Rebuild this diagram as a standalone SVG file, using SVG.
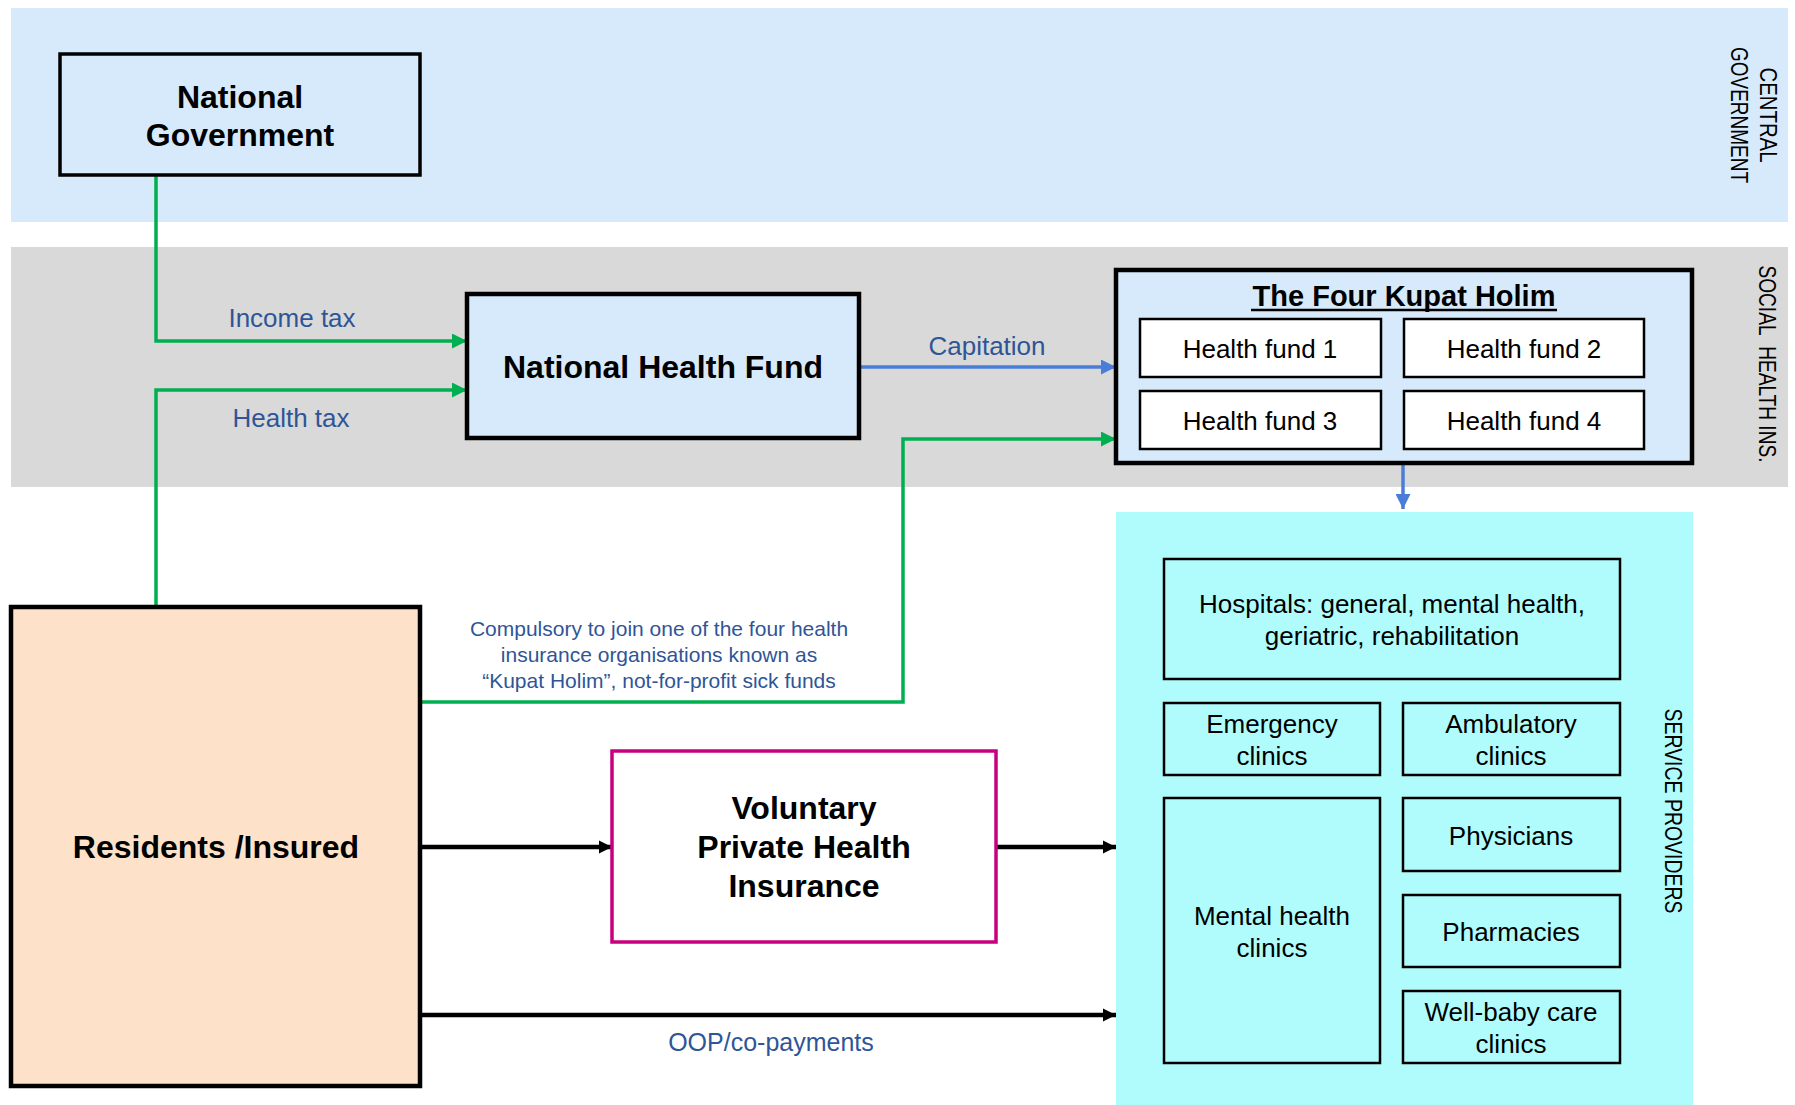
<svg xmlns="http://www.w3.org/2000/svg" width="1795" height="1105" viewBox="0 0 1795 1105">
<style>
text{font-family:"Liberation Sans",Arial,sans-serif;}
.big{font-size:32px;font-weight:bold;fill:#000;text-anchor:middle;}
.reg{font-size:26px;fill:#000;text-anchor:middle;}
.lbl{font-size:26px;fill:#2F5597;text-anchor:middle;}
.side{font-size:23px;fill:#000;text-anchor:middle;dominant-baseline:central;}
.thick{stroke:#000;stroke-width:4.5;}
.thin{stroke:#000;stroke-width:2.5;}
.green{fill:none;stroke:#00B050;stroke-width:3.5;}
.blue{fill:none;stroke:#4A7DD8;stroke-width:3.5;}
.black{fill:none;stroke:#000;stroke-width:4.5;}
</style>
<defs>
<marker id="ag" viewBox="0 0 10 10" refX="10" refY="5" markerUnits="userSpaceOnUse" markerWidth="15" markerHeight="15" orient="auto"><path d="M0,0 L10,5 L0,10 z" fill="#00B050"/></marker>
<marker id="ab" viewBox="0 0 10 10" refX="10" refY="5" markerUnits="userSpaceOnUse" markerWidth="15" markerHeight="15" orient="auto"><path d="M0,0 L10,5 L0,10 z" fill="#4A7DD8"/></marker>
<marker id="ak" viewBox="0 0 10 10" refX="10" refY="5" markerUnits="userSpaceOnUse" markerWidth="13" markerHeight="16" orient="auto"><path d="M0,0 L10,5 L0,10 z" fill="#000"/></marker>
</defs>
<rect width="1795" height="1105" fill="#fff"/>

<g id="bands">
<rect x="11" y="8" width="1777" height="214" fill="#D6EAFB"/>
<rect x="11" y="247" width="1777" height="240" fill="#D9D9D9"/>
<rect x="1116" y="512" width="577" height="593" fill="#B0FCFD"/>
<text class="side" transform="translate(1768,115) rotate(90)" textLength="95" lengthAdjust="spacingAndGlyphs">CENTRAL</text>
<text class="side" transform="translate(1739,115) rotate(90)" textLength="136" lengthAdjust="spacingAndGlyphs">GOVERNMENT</text>
<text class="side" transform="translate(1767,364) rotate(90)" textLength="197" lengthAdjust="spacingAndGlyphs">SOCIAL&#160; HEALTH INS.</text>
<text class="side" transform="translate(1673,811) rotate(90)" textLength="205" lengthAdjust="spacingAndGlyphs">SERVICE PROVIDERS</text>
</g>

<g id="connectors">
<path class="green" d="M156,175 V341 H467" marker-end="url(#ag)"/>
<path class="green" d="M156,607 V390 H467" marker-end="url(#ag)"/>
<path class="green" d="M420,702 H903 V439 H1116" marker-end="url(#ag)"/>
<path class="blue" d="M859,367 H1116" marker-end="url(#ab)"/>
<path class="blue" d="M1403,462 V509" marker-end="url(#ab)"/>
<path class="black" d="M420,847 H612" marker-end="url(#ak)"/>
<path class="black" d="M996,847 H1116" marker-end="url(#ak)"/>
<path class="black" d="M420,1015 H1116" marker-end="url(#ak)"/>
<text class="lbl" x="292" y="327">Income tax</text>
<text class="lbl" x="291" y="427">Health tax</text>
<text class="lbl" x="987" y="355">Capitation</text>
<text class="lbl" x="771" y="1051" style="font-size:25px">OOP/co-payments</text>
<text class="lbl" style="font-size:21px" x="659" y="636">Compulsory to join one of the four health</text>
<text class="lbl" style="font-size:21px" x="659" y="662">insurance organisations known as</text>
<text class="lbl" style="font-size:21px" x="659" y="688">“Kupat Holim”, not-for-profit sick funds</text>
</g>

<g id="national-government">
<rect x="60" y="54" width="360" height="121" fill="#D6EAFB" stroke="#000" stroke-width="3.5"/>
<text class="big" x="240" y="108">National</text>
<text class="big" x="240" y="146">Government</text>
</g>

<g id="national-health-fund">
<rect x="467" y="294" width="392" height="144" fill="#D6EAFB" class="thick"/>
<text class="big" x="663" y="378">National Health Fund</text>
</g>

<g id="kupat-holim">
<rect x="1116" y="270" width="576" height="193" fill="#D6EAFB" class="thick"/>
<text x="1404" y="306" style="font-size:29px;font-weight:bold;text-anchor:middle">The Four Kupat Holim</text>
<line x1="1251" y1="310" x2="1557" y2="310" stroke="#000" stroke-width="2.5"/>
</g>
<g id="health-fund-1"><rect x="1140" y="319" width="241" height="58" fill="#fff" class="thin"/><text class="reg" x="1260" y="358">Health fund 1</text></g>
<g id="health-fund-2"><rect x="1404" y="319" width="240" height="58" fill="#fff" class="thin"/><text class="reg" x="1524" y="358">Health fund 2</text></g>
<g id="health-fund-3"><rect x="1140" y="391" width="241" height="58" fill="#fff" class="thin"/><text class="reg" x="1260" y="430">Health fund 3</text></g>
<g id="health-fund-4"><rect x="1404" y="391" width="240" height="58" fill="#fff" class="thin"/><text class="reg" x="1524" y="430">Health fund 4</text></g>

<g id="hospitals"><rect x="1164" y="559" width="456" height="120" fill="#B0FCFD" class="thin"/><text class="reg" x="1392" y="613">Hospitals: general, mental health,</text><text class="reg" x="1392" y="645">geriatric, rehabilitation</text></g>
<g id="emergency"><rect x="1164" y="703" width="216" height="72" fill="#B0FCFD" class="thin"/><text class="reg" x="1272" y="733">Emergency</text><text class="reg" x="1272" y="765">clinics</text></g>
<g id="ambulatory"><rect x="1403" y="703" width="217" height="72" fill="#B0FCFD" class="thin"/><text class="reg" x="1511" y="733">Ambulatory</text><text class="reg" x="1511" y="765">clinics</text></g>
<g id="mental-health"><rect x="1164" y="798" width="216" height="265" fill="#B0FCFD" class="thin"/><text class="reg" x="1272" y="925">Mental health</text><text class="reg" x="1272" y="957">clinics</text></g>
<g id="physicians"><rect x="1403" y="798" width="217" height="73" fill="#B0FCFD" class="thin"/><text class="reg" x="1511" y="845">Physicians</text></g>
<g id="pharmacies"><rect x="1403" y="895" width="217" height="72" fill="#B0FCFD" class="thin"/><text class="reg" x="1511" y="941">Pharmacies</text></g>
<g id="well-baby"><rect x="1403" y="991" width="217" height="72" fill="#B0FCFD" class="thin"/><text class="reg" x="1511" y="1021">Well-baby care</text><text class="reg" x="1511" y="1053">clinics</text></g>

<g id="residents">
<rect x="11" y="607" width="409" height="479" fill="#FDE1C8" class="thick"/>
<text class="big" x="216" y="858">Residents /Insured</text>
</g>

<g id="voluntary">
<rect x="612" y="751" width="384" height="191" fill="#fff" stroke="#C8007E" stroke-width="3.5"/>
<text class="big" x="804" y="819">Voluntary</text>
<text class="big" x="804" y="858">Private Health</text>
<text class="big" x="804" y="897">Insurance</text>
</g>
</svg>
